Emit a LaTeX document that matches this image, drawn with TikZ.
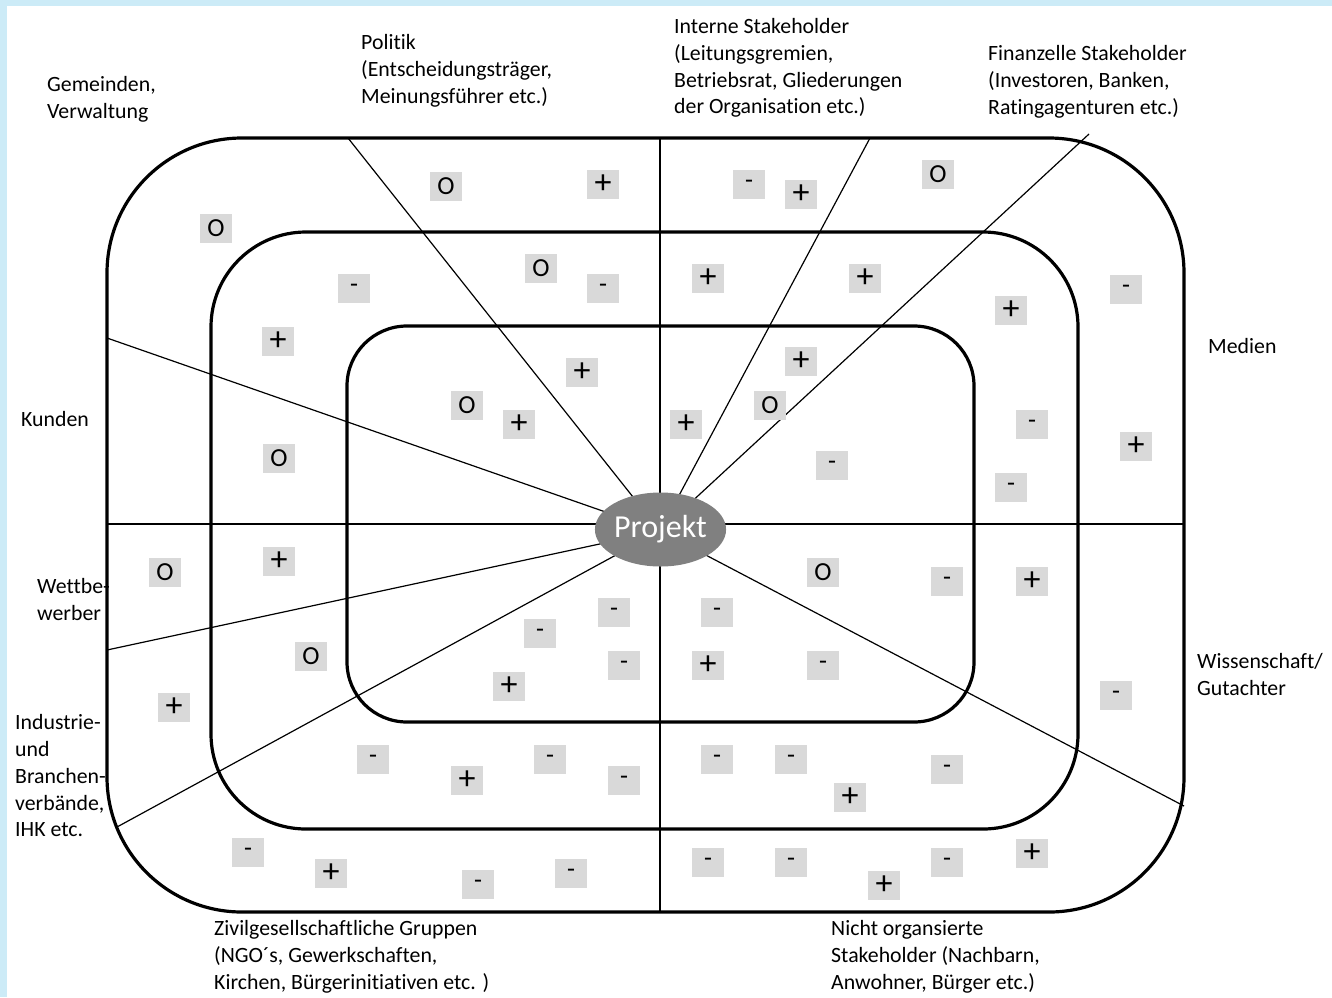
\documentclass[tikz,border=0pt]{standalone}
\usepackage{fontspec}
\setmainfont[RawFeature={-liga;-clig;-dlig;-calt}]{Carlito}
\definecolor{framebl}{HTML}{CCEBF7}
\definecolor{markgray}{HTML}{D9D9D9}
\definecolor{projgray}{HTML}{808080}
\newcommand\plusmk{{\fontsize{34}{34}\selectfont +}}
\begin{document}
\begin{tikzpicture}[x=1pt,y=-1pt,
  ring/.style={draw=black,line width=3.2pt},
  ray/.style={draw=black,line width=1.2pt},
  mk/.style={fill=markgray,minimum width=32pt,minimum height=29pt,inner sep=0pt,font=\fontsize{26}{26}\selectfont},
  lbl/.style={anchor=north west,inner sep=0pt,align=left,font=\fontsize{21.8}{26.7}\selectfont},
  proj/.style={ellipse,fill=projgray,text=white,minimum width=125pt,minimum height=74pt,inner sep=0pt,font=\fontsize{32}{32}\selectfont}]
\usetikzlibrary{shapes.geometric}
\useasboundingbox (0,0) rectangle (1332,997);
\fill[framebl] (0,0) rectangle (1332,997);
\fill[white] (7,6) rectangle (1332,997);
% rings
\draw[ring,rounded corners=135pt] (107,138) rectangle (1184,912);
\draw[ring,rounded corners=95pt] (211,232) rectangle (1078,829);
\draw[ring,rounded corners=60pt] (347,326) rectangle (974,722);
% ray ends
\coordinate (c) at (660,531);
\coordinate (vT) at (660,138);
\coordinate (vB) at (660,912);
\coordinate (hL) at (107,524);
\coordinate (hR) at (1184,524);
\coordinate (rPol) at (348,138);
\coordinate (rInt) at (870,138);
\coordinate (rFin) at (1089,134);
\coordinate (rKun) at (107,338);
\coordinate (rWet) at (107,650);
\coordinate (rInd) at (117,827);
\coordinate (rWis) at (1184,806);
\draw[ray] (vT) -- (vB);
\draw[ray] (hL) -- (hR);
\foreach \e in {rPol,rInt,rFin,rKun,rWet,rInd,rWis} \draw[ray] (c) -- (\e);
\node[proj] (projekt) at (660.5,529.5) {Projekt};
% markers
\foreach \x/\y/\s [count=\i] in {
 216/228/O, 446/186/O, 603/184/\plusmk, 749/184/-, 801/194/\plusmk, 938/174/O,
 1126/289/-, 1136/446/\plusmk, 1116/695/-, 1032/581/\plusmk, 947/581/-, 947/769/-,
 1032/853/\plusmk, 947/862/-, 884/885/\plusmk, 791/862/-, 708/862/-, 571/873/-,
 478/884/-, 331/873/\plusmk, 248/852/-, 174/707/\plusmk, 165/572/O,
 354/288/-, 278/341/\plusmk, 541/268/O, 603/288/-, 708/278/\plusmk, 865/278/\plusmk,
 1011/310/\plusmk, 1032/424/-, 1011/487/-, 279/458/O, 279/561/\plusmk, 311/656/O,
 373/759/-, 467/780/\plusmk, 550/759/-, 624/780/-, 717/759/-, 791/759/-, 850/797/\plusmk,
 582/372/\plusmk, 467/405/O, 519/424/\plusmk, 801/361/\plusmk, 770/405/O, 686/424/\plusmk,
 832/465/-, 823/572/O, 717/612/-, 708/665/\plusmk, 823/665/-, 614/612/-,
 540/633/-, 624/665/-, 509/686/\plusmk}
 \node[mk] (m\i) at (\x,\y) {\s};
% labels
\node[lbl] (lGem) at (47,73) {\strut Gemeinden,\\Verwaltung};
\node[lbl] (lPol) at (361,31) {\strut Politik\\(Entscheidungsträger,\\Meinungsführer etc.)};
\node[lbl] (lInt) at (674,15) {\strut Interne Stakeholder\\(Leitungsgremien,\\Betriebsrat, Gliederungen\\der Organisation etc.)};
\node[lbl] (lFin) at (988,42) {\strut Finanzelle Stakeholder\\(Investoren, Banken,\\Ratingagenturen etc.)};
\node[lbl] (lMed) at (1208,335) {\strut Medien};
\node[lbl] (lKun) at (21,408) {\strut Kunden};
\node[lbl] (lWet) at (37,575) {\strut Wettbe-\\werber};
\node[lbl] (lInd) at (15,711) {\strut Industrie-\\und\\Branchen-\\verbände,\\IHK etc.};
\node[lbl] (lWis) at (1197,650) {\strut Wissenschaft/\\Gutachter};
\node[lbl] (lZiv) at (214,917) {\strut Zivilgesellschaftliche Gruppen\\(NGO´s, Gewerkschaften,\\Kirchen, Bürgerinitiativen etc. )};
\node[lbl] (lNic) at (831,917) {\strut Nicht organsierte\\Stakeholder (Nachbarn,\\Anwohner, Bürger etc.)};
\end{tikzpicture}
\end{document}
